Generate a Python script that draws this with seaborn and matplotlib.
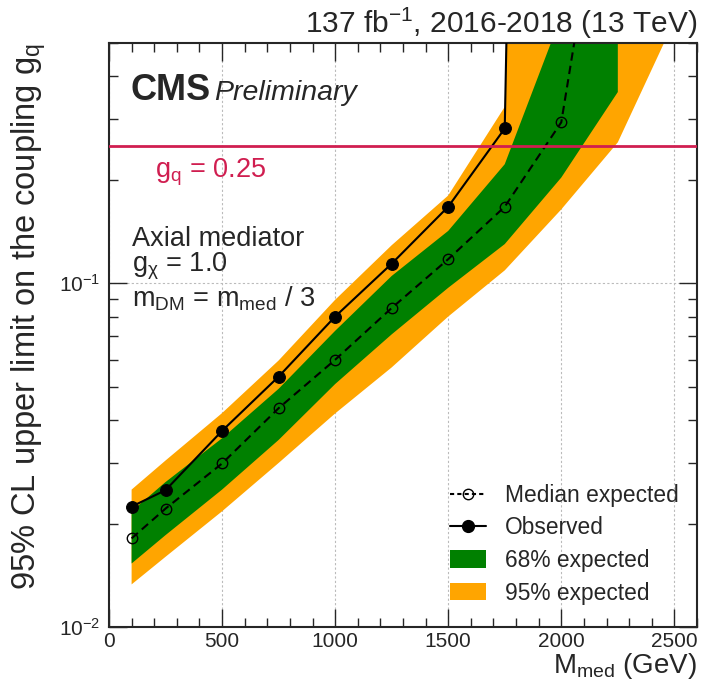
import numpy as np
import pandas as pd
import seaborn as sns
import matplotlib
matplotlib.use("Agg")
import matplotlib.pyplot as plt
from matplotlib.ticker import MultipleLocator, LogLocator, NullFormatter
from matplotlib.lines import Line2D
from matplotlib.patches import Patch

# values (upper limits on g_q)
mass_obs = [100, 250, 500, 750, 1000, 1250, 1500, 1750, 2000]
observed = [0.0224, 0.0250, 0.0372, 0.0535, 0.080, 0.114, 0.167, 0.282, 1e8]

mass_med = [100, 250, 500, 750, 1000, 1250, 1500, 1750, 2000, 2250]
median = [0.0181, 0.0221, 0.0299, 0.0433, 0.0599, 0.0847, 0.1175, 0.167, 0.294, 3.0]

mass_68 = [100, 250, 500, 750, 1000, 1250, 1500, 1750, 2000, 2250]
lo_68 = [0.0153, 0.0185, 0.0251, 0.0350, 0.0509, 0.0710, 0.097, 0.130, 0.203, 0.36]
hi_68 = [0.0217, 0.0264, 0.0354, 0.0493, 0.0727, 0.105, 0.142, 0.222, 0.60, 50.0]

mass_95 = [100, 250, 500, 750, 1000, 1250, 1500, 1750, 2000, 2250, 2500]
lo_95 = [0.0133, 0.0160, 0.0217, 0.0300, 0.0418, 0.0569, 0.080, 0.109, 0.164, 0.257, 0.58]
hi_95 = [0.0251, 0.0305, 0.0419, 0.0596, 0.0895, 0.129, 0.180, 0.326, 1e8, 1e8, 1e8]

g_q_ref = 0.25

GREEN = "#008000"
ORANGE = "#FFA500"
RED = "#D01E50"

sns.set_style("ticks")
plt.rcParams['font.family'] = ['Liberation Sans', 'DejaVu Sans']
plt.rcParams['mathtext.default'] = 'regular'

obs_df = pd.DataFrame({"mass": mass_obs, "limit": observed})
med_df = pd.DataFrame({"mass": mass_med, "limit": median})

fig = plt.figure(figsize=(7.05, 6.88), dpi=100)
ax = fig.add_axes([0.1546, 0.0887, 0.834, 0.8488])
ax.set_yscale('log')
ax.set_axisbelow(True)

# bands
ax.fill_between(mass_95, lo_95, hi_95, color=ORANGE, lw=0, zorder=1)
ax.fill_between(mass_68, lo_68, hi_68, color=GREEN, lw=0, zorder=2)

# lines
sns.lineplot(data=med_df, x="mass", y="limit", ax=ax, color="black", lw=1.5,
             linestyle=(0, (4, 2.5)), marker="o", markersize=7.5, mfc="none",
             mec="black", mew=1.0, errorbar=None, zorder=4)
sns.lineplot(data=obs_df, x="mass", y="limit", ax=ax, color="black", lw=1.5,
             marker="o", markersize=8.5, mfc="black", mec="black",
             errorbar=None, zorder=5)

ax.axhline(g_q_ref, color=RED, lw=2, zorder=6)

ax.set_xlim(0, 2600)
ax.set_ylim(0.01, 0.5)

ax.xaxis.set_major_locator(MultipleLocator(500))
ax.xaxis.set_minor_locator(MultipleLocator(100))
ax.yaxis.set_major_locator(LogLocator(base=10))
ax.yaxis.set_minor_locator(LogLocator(base=10, subs=np.arange(2, 10)))
ax.yaxis.set_minor_formatter(NullFormatter())

ax.tick_params(which='both', direction='in', top=True, right=True,
               labelsize=15, width=1)
ax.tick_params(axis='x', pad=3.5)
ax.tick_params(axis='y', pad=6)
ax.tick_params(which='major', length=13)
ax.tick_params(which='minor', length=6.5)
ax.grid(which='major', color='#bbbbbb', ls=(0, (2, 2)), lw=0.8)
for s in ax.spines.values():
    s.set_linewidth(1.5)

ax.set_xlabel("M$_{med}$ (GeV)", fontsize=20, loc='right')
ax.set_ylabel("95% CL upper limit on the coupling g$_q$", fontsize=23.5, loc='top')
ax.xaxis.set_label_coords(1.0, -0.041)
ax.yaxis.set_label_coords(-0.104, 1.0)

# texts
ax.text(1.0, 1.017, "137 fb$^{-1}$, 2016-2018 (13 TeV)", transform=ax.transAxes,
        ha='right', va='baseline', fontsize=21.5)
ax.text(0.036, 0.903, "CMS", transform=ax.transAxes, ha='left', va='baseline',
        fontsize=26, fontweight='bold')
ax.text(0.178, 0.903, "Preliminary", transform=ax.transAxes, ha='left',
        va='baseline', fontsize=20.5, fontstyle='italic')
ax.text(0.078, 0.770, "g$_q$ = 0.25", transform=ax.transAxes, ha='left',
        va='baseline', fontsize=19.5, color=RED)
ax.text(0.039, 0.6525, "Axial mediator", transform=ax.transAxes, ha='left',
        va='baseline', fontsize=19.5)
ax.text(0.039, 0.608, "g$_{χ}$ = 1.0", transform=ax.transAxes, ha='left',
        va='baseline', fontsize=19.5)
ax.text(0.039, 0.5486, "m$_{DM}$ = m$_{med}$ / 3", transform=ax.transAxes, ha='left',
        va='baseline', fontsize=19.5)

handles = [
    Line2D([], [], color='black', lw=1.5, linestyle=(0, (2, 1.5)), marker='o',
           markersize=7.5, mfc='none', mec='black', mew=1.0),
    Line2D([], [], color='black', lw=1.5, marker='o', markersize=8.5, mfc='black'),
    Patch(facecolor=GREEN, edgecolor='none'),
    Patch(facecolor=ORANGE, edgecolor='none'),
]
labels = ["Median expected", "Observed", "68% expected", "95% expected"]
ax.legend(handles, labels, loc='upper left', bbox_to_anchor=(0.580, 0.245),
          frameon=False, fontsize=16.4, handlelength=1.6, handleheight=0.8,
          handletextpad=0.8, labelspacing=0.42, borderpad=0, borderaxespad=0)

fig.savefig("out.png", dpi=100)
